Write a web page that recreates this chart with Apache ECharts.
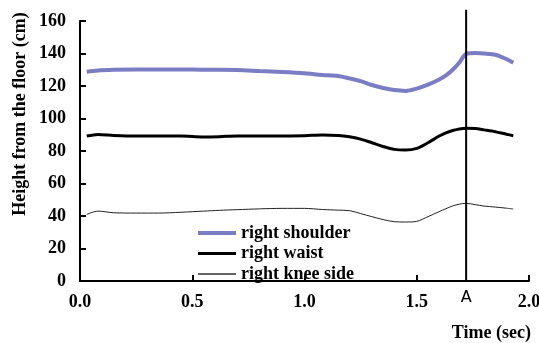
<!DOCTYPE html>
<html>
<head>
<meta charset="utf-8">
<script src="https://cdn.jsdelivr.net/npm/echarts@6/dist/echarts.min.js"></script>
<style>
  html, body { margin: 0; padding: 0; background: #fff; }
  #chart { width: 539px; height: 343px; }
</style>
</head>
<body>
<div id="chart"></div>
<script>
// time (sec)
var times = [0.03, 0.08, 0.15, 0.25, 0.35, 0.45, 0.55, 0.62, 0.7, 0.8, 0.9, 1.0, 1.08, 1.15, 1.2, 1.25, 1.3, 1.35, 1.4, 1.45, 1.5, 1.55, 1.6, 1.63, 1.66, 1.69, 1.72, 1.76, 1.8, 1.85, 1.9, 1.93];
// height from the floor (cm)
var shoulder = [128.8, 129.6, 130, 130.2, 130.1, 130.2, 130, 130, 129.8, 129.2, 128.6, 127.8, 126.8, 126.2, 124.7, 123, 120.6, 118.8, 117.5, 117, 118.4, 120.8, 124, 126.5, 130, 134.5, 139.8, 140.3, 140, 139.2, 136.5, 134.3];
var waist = [89.2, 90.2, 89.6, 89.2, 89.2, 89.2, 88.6, 88.8, 89.3, 89.3, 89.3, 89.4, 89.9, 89.6, 88.8, 87.3, 85.1, 82.8, 81, 80.6, 81.6, 85.1, 89.2, 91.2, 92.6, 93.6, 94, 93.8, 93, 91.9, 90.3, 89.4];
var knee = [41, 43, 42, 41.8, 41.8, 42.3, 43, 43.5, 43.9, 44.4, 44.7, 44.7, 44, 43.6, 43.3, 41.5, 39.6, 37.8, 36.5, 36.3, 36.7, 39.6, 42.7, 44.5, 46.2, 47.3, 47.8, 47, 46.1, 45.5, 44.8, 44.3];
var markTime = 1.72;
var markTop = 167;
var markLabel = 'A';

function pairs(ys) {
    return times.map(function (t, i) { return [t, ys[i]]; });
}

var chart = echarts.init(document.getElementById('chart'));
var serif = 'Liberation Serif, Times New Roman, serif';
var purple = '#7B7DC4';

chart.setOption({
    animation: false,
    grid: { left: 80, right: 10, top: 21, bottom: 62, outerBoundsMode: 'none' },
    legend: {
        data: [
            { name: 'right shoulder', icon: 'path://M0,0H38V4H0Z' },
            { name: 'right waist', icon: 'path://M0,0H38V3H0Z' },
            { name: 'right knee side', icon: 'path://M0,0H38V1.5H0Z' }
        ],
        orient: 'vertical',
        left: 198,
        top: 224,
        padding: 0,
        itemWidth: 38,
        itemHeight: 14,
        itemGap: 2.5,
        symbolKeepAspect: true,
        textStyle: { fontFamily: serif, fontWeight: 'bold', fontSize: 18, color: '#000' }
    },
    graphic: [
        {
            type: 'text',
            x: 20, y: 114,
            rotation: Math.PI / 2,
            style: {
                text: 'Height from the floor (cm)',
                fontFamily: serif, fontWeight: 'bold', fontSize: 18,
                fill: '#000', align: 'center', verticalAlign: 'middle'
            }
        },
        {
            type: 'text',
            right: 8, top: 324,
            style: {
                text: 'Time (sec)',
                fontFamily: serif, fontWeight: 'bold', fontSize: 18, fill: '#000'
            }
        }
    ],
    xAxis: {
        type: 'value',
        min: 0, max: 2, interval: 0.5,
        axisLine: { lineStyle: { color: '#000', width: 2 } },
        axisTick: { inside: true, length: 6, lineStyle: { color: '#000', width: 2 } },
        splitLine: { show: false },
        axisLabel: {
            margin: 12,
            fontFamily: serif, fontWeight: 'bold', fontSize: 18, color: '#000',
            formatter: function (v) { return v.toFixed(1); }
        }
    },
    yAxis: {
        type: 'value',
        min: 0, max: 160, interval: 20,
        axisLine: { show: true, lineStyle: { color: '#000', width: 2 } },
        axisTick: { show: true, inside: true, length: 6, lineStyle: { color: '#000', width: 2 } },
        splitLine: { show: false },
        axisLabel: {
            margin: 14,
            fontFamily: serif, fontWeight: 'bold', fontSize: 18, color: '#000'
        }
    },
    series: [
        {
            name: 'right shoulder',
            type: 'line',
            data: pairs(shoulder),
            symbol: 'none',
            smooth: 0.3,
            lineStyle: { color: purple, width: 4 },
            itemStyle: { color: purple }
        },
        {
            name: 'right waist',
            type: 'line',
            data: pairs(waist),
            symbol: 'none',
            smooth: 0.3,
            lineStyle: { color: '#000', width: 3 },
            itemStyle: { color: '#000' }
        },
        {
            name: 'right knee side',
            type: 'line',
            data: pairs(knee),
            symbol: 'none',
            smooth: 0.3,
            lineStyle: { color: '#222', width: 1 },
            itemStyle: { color: '#333' }
        },
        {
            name: 'marker',
            type: 'line',
            clip: false,
            symbol: 'circle',
            symbolSize: 0,
            showSymbol: true,
            data: [
                {
                    value: [markTime, 0],
                    label: {
                        show: true, position: 'bottom', distance: 9,
                        formatter: markLabel,
                        fontFamily: 'DejaVu Sans, sans-serif', fontSize: 16, color: '#000'
                    }
                },
                [markTime, markTop]
            ],
            lineStyle: { color: '#000', width: 2 },
            itemStyle: { color: '#000' },
            silent: true
        }
    ]
});
</script>
</body>
</html>
